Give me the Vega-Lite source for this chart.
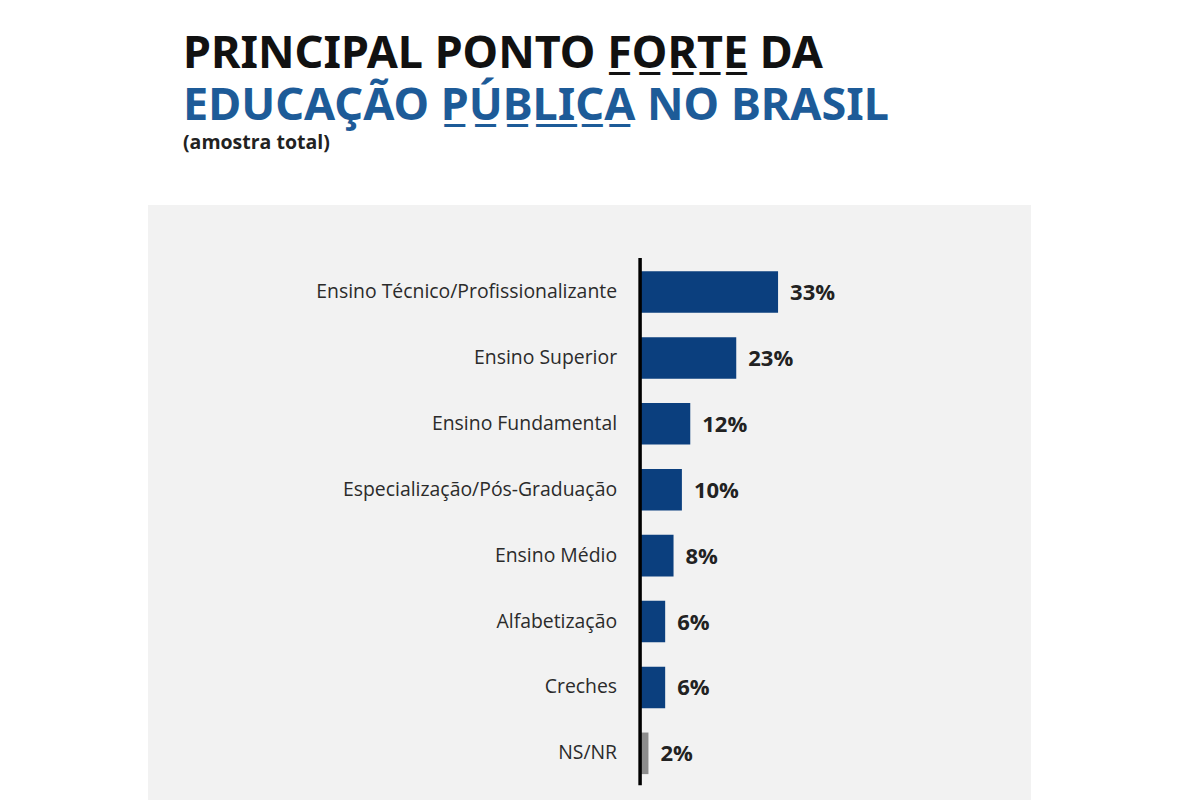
{
  "$schema": "https://vega.github.io/schema/vega-lite/v6.json",
  "background": "white",
  "padding": {"left": 148, "top": 31, "right": 0, "bottom": 0},
  "config": {"view": {"fill": "#f2f2f2", "stroke": null}, "font": "Open Sans"},
  "title": {
    "text": "PRINCIPAL PONTO F̲O̲R̲T̲E̲ DA",
    "subtitle": "EDUCAÇÃO P̲Ú̲B̲L̲I̲C̲A̲ NO BRASIL",
    "anchor": "start",
    "frame": "group",
    "dx": 35,
    "font": "Noto Sans",
    "fontSize": 45,
    "fontWeight": "bold",
    "color": "#111111",
    "subtitleFont": "Noto Sans",
    "subtitleFontSize": 45,
    "subtitleFontWeight": "bold",
    "subtitleColor": "#1d5b98",
    "subtitlePadding": 7,
    "offset": 4
  },
  "data": {
    "values": [
      {"categoria": "Ensino Técnico/Profissionalizante", "valor": 33, "rotulo": "33%", "tipo": "resposta"},
      {"categoria": "Ensino Superior", "valor": 23, "rotulo": "23%", "tipo": "resposta"},
      {"categoria": "Ensino Fundamental", "valor": 12, "rotulo": "12%", "tipo": "resposta"},
      {"categoria": "Especialização/Pós-Graduação", "valor": 10, "rotulo": "10%", "tipo": "resposta"},
      {"categoria": "Ensino Médio", "valor": 8, "rotulo": "8%", "tipo": "resposta"},
      {"categoria": "Alfabetização", "valor": 6, "rotulo": "6%", "tipo": "resposta"},
      {"categoria": "Creches", "valor": 6, "rotulo": "6%", "tipo": "resposta"},
      {"categoria": "NS/NR", "valor": 2, "rotulo": "2%", "tipo": "NS/NR"}
    ]
  },
  "vconcat": [
    {
      "width": 883,
      "height": 595,
      "title": {
        "text": "(amostra total)",
        "anchor": "start",
        "frame": "group",
        "dx": 35,
        "font": "Open Sans",
        "fontSize": 19.5,
        "fontWeight": "bold",
        "color": "#222222",
        "offset": 52
      },
      "encoding": {
        "y": {
          "field": "categoria",
          "type": "nominal",
          "sort": null,
          "axis": null,
          "scale": {"paddingInner": 0.369, "paddingOuter": 0.699, "align": 0.719}
        }
      },
      "layer": [
        {
          "mark": {"type": "bar"},
          "encoding": {
            "x": {"field": "valor", "type": "quantitative", "axis": null, "scale": {"domain": [-117.7, 93.5], "nice": false}},
            "color": {"field": "tipo", "type": "nominal", "legend": null, "scale": {"domain": ["resposta", "NS/NR"], "range": ["#0b3f7e", "#8c8c8c"]}}
          }
        },
        {
          "mark": {"type": "text", "align": "right", "baseline": "middle", "dx": -23, "fontSize": 19.4, "color": "#2b2b2b", "font": "Open Sans"},
          "encoding": {
            "x": {"datum": 0, "type": "quantitative"},
            "text": {"field": "categoria"}
          }
        },
        {
          "mark": {"type": "text", "align": "left", "baseline": "middle", "dx": 12, "dy": 1, "fontSize": 22, "fontWeight": "bold", "color": "#222222", "font": "Open Sans"},
          "encoding": {
            "x": {"field": "valor", "type": "quantitative"},
            "text": {"field": "rotulo"}
          }
        },
        {
          "data": {"values": [{}]},
          "mark": {"type": "rule", "color": "#000000", "strokeWidth": 3.5, "yOffset": -34, "y2Offset": 32},
          "encoding": {
            "x": {"datum": 0, "type": "quantitative"},
            "y": {"datum": "Ensino Técnico/Profissionalizante", "type": "nominal"},
            "y2": {"datum": "NS/NR"}
          }
        }
      ]
    }
  ]
}
